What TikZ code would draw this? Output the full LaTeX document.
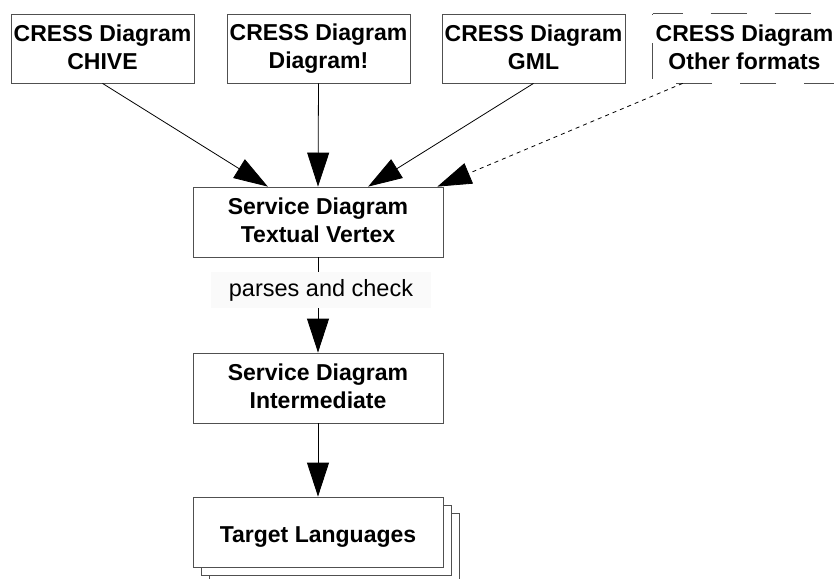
\documentclass[tikz,border=0pt]{standalone}
\usepackage{fontspec}
\setmainfont{Liberation Sans}
\usetikzlibrary{arrows.meta,calc}
\definecolor{boxline}{RGB}{80,80,80}
\definecolor{labelbg}{RGB}{250,250,250}
\tikzset{
  box/.style={draw=boxline, line width=0.8pt, fill=white, minimum width=#1, minimum height=69pt,
    inner sep=0pt, align=center, font=\fontsize{23}{28}\selectfont\bfseries,
    execute at begin node=\rule{0pt}{27pt}, execute at end node=\rule[-3pt]{0pt}{3pt}},
  box/.default=183pt,
  onebox/.style={box=250pt, minimum height=70pt,
    execute at begin node=\rule{0pt}{24pt}, execute at end node=\rule[-6pt]{0pt}{6pt}},
  conn/.style={draw=black, line width=0.8pt, -{Triangle[length=34pt,width=22pt]}},
  dconn/.style={conn, dash pattern=on 4pt off 4pt},
  lbl/.style={fill=labelbg, font=\fontsize{23.5}{28}\selectfont, inner xsep=18pt, inner ysep=7pt}
}
\begin{document}
\begin{tikzpicture}[x=1pt,y=-1pt]
\useasboundingbox (0,0) rectangle (834,578);
% top row
\node[box] (c1) at (102.5,48.5) {CRESS Diagram\\CHIVE};
\node[box] (c2) at (318.5,48.5) {CRESS Diagram\\Diagram!};
\node[box] (c3) at (533.5,48.5) {CRESS Diagram\\GML};
\node[box, draw=none, fill=none] (c4) at (744.5,48.5) {CRESS Diagram\\Other formats};
\draw[boxline, line width=0.8pt, dash pattern=on 36pt off 28pt, dash phase=6pt] (c4.north west) -- (c4.north east) -- (c4.south east) -- (c4.south west) -- cycle;
% middle
\node[box=250pt, minimum height=70pt] (sd) at (318,222) {Service Diagram\\Textual Vertex};
\node[box=250pt, minimum height=70pt] (im) at (318,388) {Service Diagram\\Intermediate};
% stacked target
\node[onebox] (t3) at (334,548) {};
\node[onebox] (t2) at (326,540) {};
\node[onebox] (tl) at (318,532) {Target Languages};
% connectors
\draw[conn] (c1.south) -- ($(sd.north west)!0.3!(sd.north east)$);
\draw[conn] (c2.south) -- (sd.north);
\draw[conn] (c3.south) -- ($(sd.north west)!0.7!(sd.north east)$);
\draw[dconn] ([xshift=30pt]c4.south west) -- ($(sd.north west)!0.976!(sd.north east)$);
\draw[conn] (sd.south) -- (im.north) node[lbl, pos=0.344, xshift=3pt] (pc) {parses and check};
\draw[conn] (im.south) -- (tl.north);
\end{tikzpicture}
\end{document}
